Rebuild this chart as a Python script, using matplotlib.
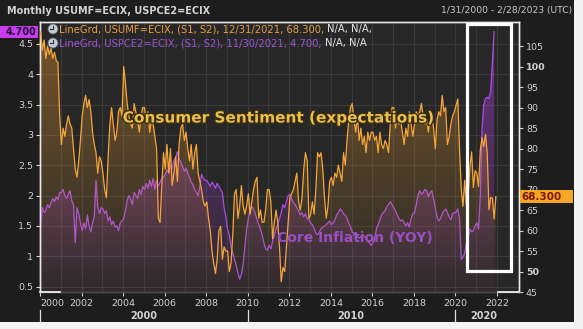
import numpy as np
import matplotlib
matplotlib.use('Agg')
import matplotlib.pyplot as plt
import matplotlib.colors as mcolors
import matplotlib.patheffects as pe
from matplotlib.patches import Rectangle, Ellipse
from matplotlib.lines import Line2D

# UMich consumer expectations, monthly Jan 2000 - Dec 2021 (right axis)
sentiment = [
    108.5, 104, 106.5, 102, 105, 103, 104.5, 102, 103.5, 101.5, 101, 88,   # 2000
    81, 85, 83, 86, 88, 86, 85, 80, 75, 73, 77, 82,                        # 2001
    88, 91, 93, 90, 92, 89, 84, 81, 79, 74, 78, 77,                        # 2002
    74, 70, 68, 78, 86, 90, 86, 82, 84, 89, 90, 88,                        # 2003
    100, 96, 91, 88, 86, 85, 91, 89, 87, 84, 88, 90,                       # 2004
    90, 87, 89, 84, 87, 86, 83, 80, 63, 62, 71, 79,                        # 2005
    75, 81, 74, 80, 71, 74, 78, 72, 81, 85, 86, 82,                        # 2006
    84, 80, 77, 81, 75, 79, 81, 74, 72, 70, 67, 66,                        # 2007
    67, 63, 60, 55, 52, 49.5, 53, 60, 61, 53, 56, 55,                      # 2008
    55, 50, 52, 59, 69, 70, 63, 66, 71, 66, 64, 66,                        # 2009
    69, 64, 67, 70, 72, 73, 63, 65, 62, 62, 65, 70,                        # 2010
    70, 67, 58, 62, 65, 62, 56, 47.5, 51, 50, 56, 62,                      # 2011
    68, 69, 70, 72, 74, 67, 65, 68, 75, 79, 77, 63,                        # 2012
    64, 67, 64, 70, 79, 78, 79, 75, 68, 63, 66, 72,                        # 2013
    73, 71, 74, 73, 76, 74, 72, 79, 76, 82, 87, 90,                        # 2014
    91, 87, 84, 88, 82, 85, 81, 83, 79, 84, 82, 84,                        # 2015
    84, 82, 83, 79, 84, 81, 80, 82, 81, 79, 86, 90,                        # 2016
    90, 85, 88, 86, 87, 84, 81, 85, 83, 89, 86, 83,                        # 2017
    86, 89, 88, 89, 91, 88, 86, 87, 84, 88, 88, 85,                        # 2018
    80, 87, 89, 88, 93, 89, 90, 81, 83, 86, 88, 89,                        # 2019
    90.5, 92.1, 79.7, 70.1, 65.9, 72.3, 65.9, 68.5, 75.6, 79.2, 70.5, 74.6,  # 2020
    74.0, 70.7, 79.7, 82.7, 80.5, 83.5, 79.0, 65.1, 68.1, 67.9, 62.8, 68.3,  # 2021
]

# core PCE, % y/y, monthly Jan 2000 - Nov 2021 (left axis)
core_pce = [
    1.50, 1.80, 1.72, 1.75, 1.85, 1.80, 1.88, 1.95, 1.90, 1.98, 1.93, 2.05,  # 2000
    2.05, 2.10, 2.00, 1.95, 2.02, 2.08, 1.92, 1.85, 1.22, 1.80, 1.70, 1.55,  # 2001
    1.42, 1.55, 1.45, 1.68, 1.50, 1.40, 1.55, 1.65, 2.25, 1.82, 1.70, 1.80,  # 2002
    1.78, 1.70, 1.75, 1.58, 1.65, 1.52, 1.58, 1.48, 1.50, 1.42, 1.55, 1.58,  # 2003
    1.62, 1.75, 1.92, 2.00, 1.95, 1.85, 2.05, 2.00, 1.95, 2.10, 2.02, 2.15,  # 2004
    2.10, 2.20, 2.12, 2.25, 2.15, 2.28, 2.10, 2.25, 2.15, 2.22, 2.28, 2.30,  # 2005
    2.35, 2.42, 2.38, 2.50, 2.45, 2.58, 2.62, 2.72, 2.60, 2.55, 2.48, 2.40,  # 2006
    2.45, 2.38, 2.30, 2.22, 2.18, 2.10, 2.05, 2.00, 2.15, 2.35, 2.28, 2.25,  # 2007
    2.25, 2.20, 2.15, 2.22, 2.18, 2.12, 2.20, 2.15, 2.10, 2.05, 1.80, 1.65,  # 2008
    1.45, 1.35, 1.15, 1.05, 0.95, 0.85, 0.72, 0.62, 0.70, 0.88, 1.15, 1.45,  # 2009
    1.62, 1.75, 1.82, 1.78, 1.70, 1.60, 1.52, 1.45, 1.35, 1.22, 1.12, 1.10,  # 2010
    1.18, 1.12, 1.25, 1.35, 1.45, 1.52, 1.62, 1.72, 1.85, 1.80, 1.90, 2.00,  # 2011
    2.02, 1.95, 1.88, 1.85, 1.80, 1.75, 1.68, 1.72, 1.65, 1.70, 1.62, 1.60,  # 2012
    1.55, 1.52, 1.45, 1.38, 1.35, 1.40, 1.45, 1.48, 1.50, 1.52, 1.55, 1.58,  # 2013
    1.52, 1.55, 1.60, 1.68, 1.72, 1.78, 1.75, 1.70, 1.68, 1.62, 1.55, 1.48,  # 2014
    1.40, 1.38, 1.35, 1.32, 1.30, 1.32, 1.35, 1.33, 1.30, 1.25, 1.22, 1.18,  # 2015
    1.22, 1.30, 1.45, 1.52, 1.60, 1.68, 1.72, 1.75, 1.82, 1.85, 1.90, 1.85,  # 2016
    1.80, 1.75, 1.68, 1.62, 1.58, 1.60, 1.55, 1.50, 1.55, 1.48, 1.62, 1.70,  # 2017
    1.72, 1.85, 2.00, 2.08, 2.02, 2.05, 2.10, 2.08, 1.98, 2.05, 2.08, 1.95,  # 2018
    1.80, 1.65, 1.58, 1.62, 1.70, 1.75, 1.78, 1.72, 1.65, 1.60, 1.70, 1.72,  # 2019
    1.72, 1.78, 1.62, 0.95, 0.98, 1.05, 1.22, 1.30, 1.45, 1.40, 1.42, 1.50,  # 2020
    1.55, 1.45, 2.00, 3.10, 3.50, 3.60, 3.62, 3.60, 3.72, 4.20, 4.70,        # 2021
]

year_ticks = list(range(2000, 2023, 2))
left_ticks = [0.5, 1, 1.5, 2, 2.5, 3, 3.5, 4, 4.5]
right_ticks = list(range(45, 106, 5))
decades = ['2000', '2010', '2020']

ORANGE = '#f5a53a'
PURPLE = '#a94ee0'
TXT = '#d2d2d2'

W, H = 583, 329
fig = plt.figure(figsize=(W / 100, H / 100), dpi=100, facecolor='#f4f4f4')


def fx(px):
    return px / W


def fy(py):
    return 1 - py / H


# dark panel
fig.add_artist(Rectangle((0, fy(322)), fx(574), 1 - fy(322), transform=fig.transFigure,
                         facecolor='#1d1d1d', edgecolor='none', zorder=0))

ax = fig.add_axes([fx(40), fy(292), fx(479), fy(22) - fy(292)])
ax.set_facecolor('#272727')
ax2 = ax.twinx()

t_s = 2000 + np.arange(len(sentiment)) / 12 + 0.03
t_c = 2000 + np.arange(len(core_pce)) / 12 + 0.03
sent = np.array(sentiment)
core = np.array(core_pce)

LY = (0.41, 4.86)
RY = (45.0, 110.9)


def grad_fill(axis, x, y, color, a_top, a_bot, lo, hi):
    poly = axis.fill_between(x, y, lo, facecolor='none', edgecolor='none')
    g = np.zeros((200, 1, 4))
    g[:, :, :3] = mcolors.to_rgb(color)
    g[:, 0, 3] = np.linspace(a_bot, a_top, 200)
    im = axis.imshow(g, aspect='auto', origin='lower', extent=[x[0], x[-1], lo, hi],
                     zorder=1, interpolation='bilinear')
    im.set_clip_path(poly.get_paths()[0], transform=axis.transData)


grad_fill(ax, t_c, core, '#b040e0', 0.55, 0.03, LY[0], LY[1])
ax.plot(t_c, core, color=PURPLE, lw=0.9, zorder=3)

grad_fill(ax2, t_s, sent, '#f0a030', 0.40, 0.02, RY[0], RY[1])
ax2.plot(t_s, sent, color=ORANGE, lw=0.9, zorder=3)

for a in (ax, ax2):
    a.set_xlim(2000, 2023.06)
ax.set_ylim(*LY)
ax2.set_ylim(*RY)

# grid
for yr in range(2001, 2023):
    ax.axvline(yr, color='#3a3a3a', lw=0.8, zorder=0.5)
for v in left_ticks:
    ax.axhline(v, color='#3a3a3a', lw=0.8, zorder=0.5)

ax.set_xticks(year_ticks)
ax.set_xticklabels([str(y) for y in year_ticks])
ax.get_xticklabels()[0].set_ha('left')
ax.set_yticks(left_ticks)
ax.set_yticklabels(['0.5', '1', '1.5', '2', '2.5', '3', '3.5', '4', '4.5'])
ax2.set_yticks(right_ticks)
ax2.set_yticklabels([str(v) for v in right_ticks])
for lab in ax2.get_yticklabels():
    if lab.get_text() in ('50', '100'):
        lab.set_fontweight('bold')

ax.tick_params(axis='both', colors=TXT, labelsize=6.8, length=3, width=0.8, pad=2)
ax2.tick_params(axis='y', colors=TXT, labelsize=6.8, length=3, width=0.8, pad=2)

for a in (ax, ax2):
    for s in a.spines.values():
        s.set_color('#e8e8e8')
        s.set_linewidth(1.0)
    a.spines['bottom'].set_color('#4a4a4a')

# white ends of the bottom axis
fig.add_artist(Line2D([fx(40), fx(60)], [fy(292), fy(292)], color='white', lw=1.2))
fig.add_artist(Line2D([fx(498), fx(519)], [fy(292), fy(292)], color='white', lw=1.2))

# decade separators and labels
for px in (40, 248, 455):
    fig.add_artist(Line2D([fx(px), fx(px)], [fy(310), fy(322)], color='#dddddd', lw=0.9))
for lab, px in zip(decades, (144, 351, 484)):
    fig.text(fx(px), fy(316), lab, ha='center', va='center', color=TXT,
             fontsize=7, fontweight='bold')

# highlight box
fig.add_artist(Rectangle((fx(467), fy(271)), fx(44), fy(24) - fy(271), transform=fig.transFigure,
                         facecolor='none', edgecolor='white', lw=2.3, zorder=5))

# header
fig.text(fx(7), fy(11), 'Monthly USUMF=ECIX, USPCE2=ECIX', color=TXT, fontsize=7,
         fontweight='bold', va='center')
fig.text(fx(572), fy(11), '1/31/2000 - 2/28/2023 (UTC)', color='#c8c8c8', fontsize=6.6,
         ha='right', va='center')

# legend lines with clock icons
r = fig.canvas.get_renderer()


def chain(parts, x0, yc, size):
    x = x0
    for s, c in parts:
        t = fig.text(x, yc, s, color=c, fontsize=size, va='center', zorder=6)
        x += t.get_window_extent(r).width / W


for yc in (29, 43):
    fig.add_artist(Ellipse((fx(53), fy(yc)), fx(10), 10 / H, transform=fig.transFigure,
                           facecolor='#c4ccd4', edgecolor='#5a6068', lw=0.6, zorder=6))
    fig.add_artist(Line2D([fx(53), fx(53)], [fy(yc), fy(yc - 3.5)], color='#30343a', lw=0.8, zorder=7))
    fig.add_artist(Line2D([fx(53), fx(50)], [fy(yc), fy(yc)], color='#30343a', lw=0.8, zorder=7))

chain([('LineGrd, USUMF=ECIX, (S1, S2), 12/31/2021, 68.300, ', '#e99d45'),
       ('N/A, N/A,', '#e6e6e6')], fx(59), fy(29), 7.2)
chain([('LineGrd, USPCE2=ECIX, (S1, S2), 11/30/2021, 4.700, ', '#9c55d8'),
       ('N/A, N/A', '#e6e6e6')], fx(59), fy(43), 7.2)

# big annotations
fig.text(fx(278), fy(118), 'Consumer Sentiment (expectations)', color='#e8c04a', fontsize=11,
         fontweight='bold', ha='center', va='center', zorder=6,
         path_effects=[pe.withStroke(linewidth=2, foreground='#3a2c10')])
fig.text(fx(355), fy(238), 'Core Inflation (YOY)', color='#9a4fc2', fontsize=10,
         fontweight='bold', ha='center', va='center', zorder=6)

# last value tags
fig.add_artist(Rectangle((0, fy(38)), fx(38), fy(26) - fy(38), transform=fig.transFigure,
                         facecolor='#c93cf2', edgecolor='none', zorder=6))
fig.text(fx(36), fy(32), '4.700', color='#1e0a30', fontsize=7, fontweight='bold',
         ha='right', va='center', zorder=7)
fig.add_artist(Rectangle((fx(520), fy(203)), fx(53), fy(190) - fy(203), transform=fig.transFigure,
                         facecolor='#f5a623', edgecolor='none', zorder=6))
fig.text(fx(521), fy(196.5), '68.300', color='#7a1800', fontsize=7.5, fontweight='bold',
         ha='left', va='center', zorder=7)

fig.savefig('out.png', dpi=100, facecolor=fig.get_facecolor())
